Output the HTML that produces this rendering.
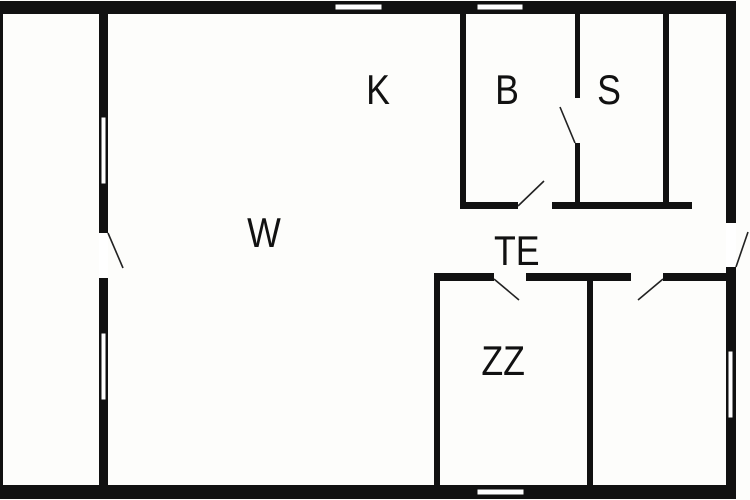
<!DOCTYPE html>
<html><head><style>
html,body{margin:0;padding:0;background:#fdfdfb;}
svg{display:block}
text{font-family:"Liberation Sans",sans-serif;font-size:42px;fill:#111;}
</style></head><body>
<svg width="750" height="500" viewBox="0 0 750 500" xmlns="http://www.w3.org/2000/svg">
<rect width="750" height="500" fill="#fdfdfb"/>
<g fill="#111">
<!-- outer -->
<rect x="0" y="1" width="736" height="13"/>
<rect x="0" y="485" width="736" height="14"/>
<rect x="0" y="1" width="3" height="498"/>
<rect x="726" y="1" width="10" height="222"/>
<rect x="726" y="267" width="10" height="232"/>
<!-- left divider -->
<rect x="99" y="1" width="9" height="498"/>
<!-- B room -->
<rect x="460" y="13" width="6" height="195"/>
<rect x="460" y="202" width="58" height="7"/>
<rect x="552" y="202" width="140" height="7"/>
<rect x="575" y="13" width="5" height="85"/>
<rect x="575" y="143" width="5" height="65"/>
<rect x="663" y="13" width="6" height="195"/>
<!-- TE row wall -->
<rect x="434" y="273" width="60" height="8"/>
<rect x="526" y="273" width="105" height="8"/>
<rect x="663" y="273" width="73" height="8"/>
<rect x="434" y="273" width="6" height="220"/>
<rect x="587" y="273" width="6" height="220"/>
</g>
<g fill="#fff" stroke="#111" stroke-width="1">
<rect x="335" y="4" width="47" height="6"/>
<rect x="477" y="4" width="46" height="6"/>
<rect x="477" y="489" width="47" height="6"/>
<rect x="101" y="117" width="5" height="67"/>
<rect x="101" y="333" width="5" height="67"/>
<rect x="728" y="351" width="5" height="67"/>
</g>
<g fill="#fff">
<rect x="99" y="233" width="9" height="45"/>
<rect x="726" y="223" width="10" height="44"/>
</g>
<g stroke="#222" stroke-width="1.6" fill="none">
<line x1="108" y1="233" x2="123" y2="268"/>
<line x1="518" y1="206" x2="544" y2="181"/>
<line x1="575" y1="143" x2="560" y2="107"/>
<line x1="736" y1="267" x2="748" y2="232"/>
<line x1="494" y1="279" x2="519" y2="300"/>
<line x1="663" y1="279" x2="638" y2="300"/>
</g>
<g transform="scale(0.85,1)">
<text x="444.7" y="104" text-anchor="middle">K</text>
<text x="596.5" y="104" text-anchor="middle">B</text>
<text x="716.5" y="104" text-anchor="middle">S</text>
<text x="310.6" y="247" text-anchor="middle">W</text>
<text x="608" y="265" text-anchor="middle">TE</text>
<text x="592" y="375" text-anchor="middle">ZZ</text>
</g>
</svg>
</body></html>
